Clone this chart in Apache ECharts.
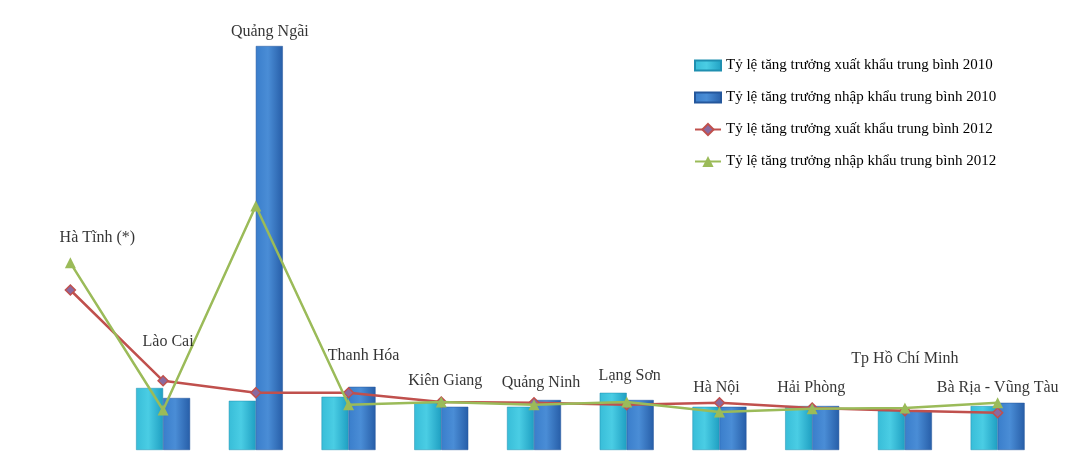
<!DOCTYPE html>
<html>
<head>
<meta charset="utf-8">
<script src="https://cdn.jsdelivr.net/npm/echarts@6/dist/echarts.min.js"></script>
<style>
  html, body { margin: 0; padding: 0; background: #fff; }
  #chart { width: 1065px; height: 466px; }
</style>
</head>
<body>
<div id="chart"></div>
<script>
const provinces = ["Hà Tĩnh (*)", "Lào Cai", "Quảng Ngãi", "Thanh Hóa", "Kiên Giang", "Quảng Ninh",
  "Lạng Sơn", "Hà Nội", "Hải Phòng", "Tp Hồ Chí Minh", "Bà Rịa - Vũng Tàu"];

const export2010 = [null, 15.5, 12.3, 13.3, 11.8, 10.8, 14.3, 10.8, 11.0, 9.8, 11.0];
const import2010 = [null, 13.0, 101.0, 15.8, 10.8, 12.5, 12.5, 10.8, 11.0, 9.8, 11.8];
const export2012 = [40.0, 17.3, 14.3, 14.3, 12.0, 11.8, 11.3, 11.8, 10.5, 9.8, 9.3];
const import2012 = [46.8, 10.0, 61.0, 11.3, 12.0, 11.3, 12.0, 9.5, 10.3, 10.5, 11.8];

// height (axis units) where each province name sits
const nameLevels = [53.0, 27.0, 104.5, 23.5, 17.3, 16.8, 18.5, 15.5, 15.5, 22.8, 15.5];
const nameShift = [27, 5, 14, 15, 4, 7, 3, -3, -1, 0, 0];

const seriesNames = [
  "Tỷ lệ tăng trưởng xuất khẩu trung bình 2010",
  "Tỷ lệ tăng trưởng nhập khẩu trung bình 2010",
  "Tỷ lệ tăng trưởng xuất khẩu trung bình 2012",
  "Tỷ lệ tăng trưởng nhập khẩu trung bình 2012",
];

const serif = "'Liberation Serif', 'DejaVu Serif', serif";

function barGradient(edge, mid, dark) {
  return new echarts.graphic.LinearGradient(0, 0, 1, 0, [
    { offset: 0, color: edge },
    { offset: 0.45, color: mid },
    { offset: 1, color: dark },
  ]);
}

const chart = echarts.init(document.getElementById("chart"));
chart.setOption({
  animation: false,
  backgroundColor: "#fff",
  grid: { left: 24, right: 21, top: 10, bottom: 16 },
  legend: {
    orient: "vertical",
    left: 689,
    top: 53,
    itemGap: 17,
    itemWidth: 26,
    itemHeight: 14,
    data: [
      { name: seriesNames[0], icon: "path://M0,2 L26,2 L26,12 L0,12 Z" },
      { name: seriesNames[1], icon: "path://M0,2 L26,2 L26,12 L0,12 Z" },
      { name: seriesNames[2] },
      { name: seriesNames[3] },
    ],
    textStyle: { fontFamily: serif, fontSize: 15, color: "#000" },
  },
  xAxis: {
    type: "category",
    data: provinces,
    axisLine: { show: false },
    axisTick: { show: false },
    axisLabel: { show: false },
  },
  yAxis: {
    type: "value",
    min: 0,
    max: 110,
    show: false,
    splitLine: { show: false },
  },
  series: [
    {
      name: seriesNames[0],
      type: "bar",
      barWidth: 27,
      barGap: "0%",
      data: export2010,
      itemStyle: {
        color: barGradient("#38bdd8", "#4acde4", "#1f9fc2"),
        borderColor: "#1f8fb0",
        borderWidth: 0.5,
      },
    },
    {
      name: seriesNames[1],
      type: "bar",
      barWidth: 27,
      barGap: "0%",
      data: import2010,
      itemStyle: {
        color: barGradient("#3a7ecb", "#4a8dd6", "#275ea8"),
        borderColor: "#24579c",
        borderWidth: 0.5,
      },
    },
    {
      name: seriesNames[2],
      type: "line",
      data: export2012,
      symbol: "diamond",
      symbolSize: 10,
      lineStyle: { color: "#c0504d", width: 2.5 },
      itemStyle: { color: "#8a6aa0", borderColor: "#c0504d", borderWidth: 1.5 },
      z: 3,
    },
    {
      name: seriesNames[3],
      type: "line",
      data: import2012,
      symbol: "triangle",
      symbolSize: 11,
      lineStyle: { color: "#9bbb59", width: 2.5 },
      itemStyle: { color: "#9bbb59" },
      z: 4,
    },
    {
      name: "names",
      type: "scatter",
      data: nameLevels,
      symbolSize: 0,
      silent: true,
      label: {
        show: true,
        position: "inside",
        formatter: (p) => provinces[p.dataIndex],
        fontFamily: serif,
        fontSize: 16,
        color: "#000",
      },
      labelLayout: (p) => ({ dx: nameShift[p.dataIndex] }),
      z: 5,
    },
  ],
});
</script>
</body>
</html>
